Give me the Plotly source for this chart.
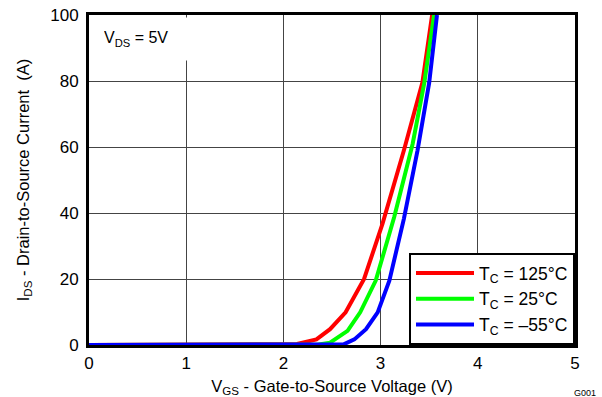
import plotly.graph_objects as go

# Data (V_GS in V, I_DS in A)
vgs_125 = [0.0, 1.8, 2.14, 2.34, 2.48, 2.64, 2.83, 3.02, 3.24, 3.43, 3.53]
ids_125 = [0.0, 0.0, 0.3, 1.7, 4.8, 9.9, 20.0, 36.8, 59.0, 79.5, 100.0]

vgs_25 = [0.0, 2.0, 2.35, 2.48, 2.66, 2.79, 2.95, 3.14, 3.33, 3.45, 3.55]
ids_25 = [0.0, 0.0, 0.1, 0.7, 4.3, 9.9, 19.5, 38.8, 61.0, 79.5, 100.0]

vgs_m55 = [0.0, 2.2, 2.62, 2.73, 2.85, 2.97, 3.09, 3.24, 3.38, 3.50, 3.58]
ids_m55 = [0.0, 0.0, 0.2, 1.7, 4.8, 9.9, 19.5, 38.3, 59.0, 79.5, 100.0]

names = ["T<sub>C</sub> = 125°C", "T<sub>C</sub> = 25°C", "T<sub>C</sub> = –55°C"]
colors = ["#ff0000", "#00ff00", "#0000ff"]

x_ticks = [0, 1, 2, 3, 4, 5]
y_ticks = [0, 20, 40, 60, 80, 100]

fig = go.Figure()
for xs, ys, nm, c in [(vgs_125, ids_125, names[0], colors[0]),
                      (vgs_25, ids_25, names[1], colors[1]),
                      (vgs_m55, ids_m55, names[2], colors[2])]:
    fig.add_trace(go.Scatter(x=xs, y=ys, name=nm, mode="lines",
                             line=dict(color=c, width=4)))

fnt = "Liberation Sans, Arial, sans-serif"
fig.update_layout(
    width=602, height=397,
    margin=dict(l=89, r=27, t=15, b=52),
    paper_bgcolor="white", plot_bgcolor="white",
    font=dict(family=fnt, color="black", size=17),
    showlegend=True,
    legend=dict(x=1, y=0, xanchor="right", yanchor="bottom",
                bgcolor="white", bordercolor="black", borderwidth=2,
                font=dict(size=17.5, family=fnt), tracegroupgap=0,
                itemwidth=58),
    xaxis=dict(range=[0, 5], tickvals=x_ticks, showgrid=True,
               gridcolor="#444444", gridwidth=1, zeroline=False,
               showline=True, linecolor="black", linewidth=3, mirror=True,
               ticks="", tickfont=dict(size=17), ticklabelstandoff=1,
               automargin=False,
               title=dict(text="V<sub>GS</sub> - Gate-to-Source Voltage (V)",
                          font=dict(size=16.5), standoff=10)),
    yaxis=dict(range=[0, 100], tickvals=y_ticks, showgrid=True,
               gridcolor="#444444", gridwidth=1, zeroline=False,
               showline=True, linecolor="black", linewidth=3, mirror=True,
               ticks="", tickfont=dict(size=17), ticklabelstandoff=4,
               automargin=False,
               title=dict(text="I<sub>DS</sub> - Drain-to-Source Current  (A)",
                          font=dict(size=16.5), standoff=17)),
    annotations=[
        dict(text="V<sub>DS</sub> = 5V", xref="x", yref="paper",
             x=0.14, y=0.995, xanchor="left", yanchor="top",
             showarrow=False, align="left", bgcolor="white",
             width=90, height=42, borderpad=0, font=dict(size=16)),
        dict(text="G001", xref="paper", yref="paper", x=1.047, y=-0.145,
             xanchor="right", yanchor="middle", showarrow=False,
             font=dict(size=9)),
    ],
)

fig.write_html("out.html")
